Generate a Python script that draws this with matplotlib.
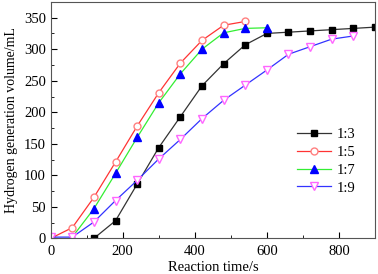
import matplotlib.pyplot as plt
from matplotlib.ticker import MultipleLocator

plt.rcParams['font.family'] = ['Liberation Serif', 'DejaVu Serif']

# reaction time (s) and generated hydrogen volume (mL)
t_13 = [120, 180, 240, 300, 360, 420, 480, 540, 600, 660, 720, 780, 840, 900]
v_13 = [0, 28, 86, 144, 193, 242, 277, 307, 325, 327, 329, 331, 333, 335]

t_15 = [0, 60, 120, 180, 240, 300, 360, 420, 480, 540]
v_15 = [0, 17, 65, 121, 178, 231, 278, 314, 338, 344]

t_17 = [60, 120, 180, 240, 300, 360, 420, 480, 540, 600]
v_17 = [2, 47, 103, 160, 215, 261, 300, 326, 333, 334]

t_19 = [0, 60, 120, 180, 240, 300, 360, 420, 480, 540, 600, 660, 720, 780, 840]
v_19 = [2, 2, 26, 60, 92, 126, 157, 190, 219, 243, 267, 292, 304, 316, 321]

labels = ["1:3", "1:5", "1:7", "1:9"]

fig = plt.figure(figsize=(3.78, 2.74), dpi=100)
ax = fig.add_axes([0.134, 0.130, 0.858, 0.863])

ax.plot(t_13, v_13, color="#333333", lw=0.9, marker="s", ms=4.5,
        mfc="black", mec="black", label=labels[0])
ax.plot(t_15, v_15, color="#ff3333", lw=0.9, marker="o", ms=5,
        mfc="white", mec="#ff8080", label=labels[1])
ax.plot(t_17, v_17, color="#33ee33", lw=0.9, marker="^", ms=5.5,
        mfc="blue", mec="blue", label=labels[2])
ax.plot(t_19, v_19, color="#3333ff", lw=0.9, marker="v", ms=5.5,
        mfc="white", mec="#ff66ff", label=labels[3])

ax.set_xlim(0, 900)
ax.set_ylim(0, 375)
ax.xaxis.set_major_locator(MultipleLocator(200))
ax.xaxis.set_minor_locator(MultipleLocator(100))
ax.yaxis.set_major_locator(MultipleLocator(50))
ax.yaxis.set_minor_locator(MultipleLocator(25))
ax.tick_params(which="both", direction="in", labelsize=10.5)
ax.tick_params(axis="x", pad=5)
ax.tick_params(which="major", length=4)
ax.tick_params(which="minor", length=2.5)
for s in ax.spines.values():
    s.set_color("#555555")

ax.set_xlabel("Reaction time/s", fontsize=10.5, labelpad=2)
ax.set_ylabel("Hydrogen generation volume/mL", fontsize=10, labelpad=4)

ax.legend(loc="lower right", bbox_to_anchor=(0.98, 0.13), frameon=False,
          fontsize=10.5, handlelength=2.3, handletextpad=0.4, labelspacing=0.32)

fig.savefig("out.png")
